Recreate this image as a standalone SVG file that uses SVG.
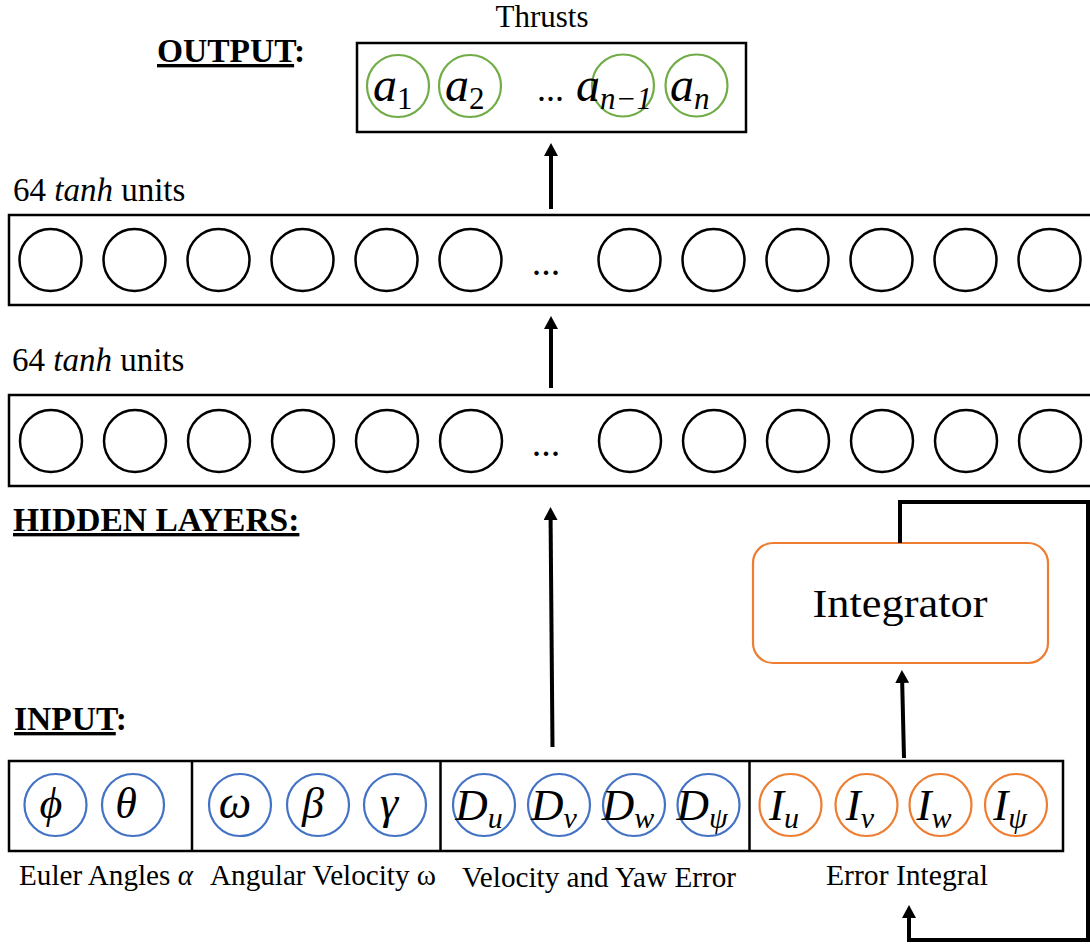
<svg xmlns="http://www.w3.org/2000/svg" width="1090" height="951" viewBox="0 0 1090 951">
<style>
  .t { font-family: "Liberation Serif", "Times New Roman", serif; fill: #000; }
  .b { font-weight: bold; }
  .m { font-family: "Liberation Serif", "Times New Roman", serif; font-style: italic; fill: #000; }
  .box { fill: #fff; stroke: #000; stroke-width: 2.5; }
  .unit { fill: none; stroke: #000; stroke-width: 2.5; }
  .blue { fill: none; stroke: #4472C4; stroke-width: 2.2; }
  .orange { fill: none; stroke: #ED7D31; stroke-width: 2.2; }
  .green { fill: none; stroke: #70AD47; stroke-width: 2.2; }
  .conn { fill: none; stroke: #000; stroke-width: 4; }
</style>
<defs>
  <marker id="ah" markerUnits="userSpaceOnUse" markerWidth="13" markerHeight="14" viewBox="0 0 13 14" refX="0" refY="7" orient="auto">
    <path d="M0,0 L13,7 L0,14 z" fill="#000"/>
  </marker>
</defs>
<rect width="1090" height="951" fill="#fff"/>

<!-- section titles -->
<g id="titles">
  <text class="t b" x="157" y="62" font-size="33.5"><tspan text-decoration="underline">OUTPUT</tspan>:</text>
  <text class="t b" x="13" y="531" font-size="33.5"><tspan text-decoration="underline">HIDDEN LAYERS: </tspan></text>
  <text class="t b" x="14" y="730" font-size="33.5"><tspan text-decoration="underline">INPUT</tspan>:</text>
</g>

<!-- output layer -->
<g id="output-layer">
  <text class="t" x="542" y="27" font-size="31" text-anchor="middle">Thrusts</text>
  <rect class="box" x="357" y="43" width="389" height="89"/>
  <circle class="green" cx="398" cy="86" r="31"/>
  <circle class="green" cx="470" cy="86" r="31"/>
  <circle class="green" cx="623" cy="85.5" r="31"/>
  <circle class="green" cx="696.5" cy="85.5" r="31"/>
  <text class="m" x="373" y="101" font-size="48">a<tspan font-size="31" font-style="normal" dy="8">1</tspan></text>
  <text class="m" x="445" y="101" font-size="48">a<tspan font-size="31" font-style="normal" dy="8">2</tspan></text>
  <text class="t" x="537" y="101" font-size="36">...</text>
  <text class="m" x="576" y="101" font-size="48">a<tspan font-size="31" dy="8">n−1</tspan></text>
  <text class="m" x="670" y="101" font-size="48">a<tspan font-size="31" dy="8">n</tspan></text>
</g>

<!-- hidden layer 2 (top) -->
<g id="hidden-layer-2">
  <text class="t" x="13" y="201" font-size="33">64 <tspan font-style="italic">tanh</tspan> units</text>
  <rect class="box" x="9" y="215" width="1086" height="90"/>
  <circle class="unit" cx="50.5" cy="260" r="31"/>
  <circle class="unit" cx="134.5" cy="260" r="31"/>
  <circle class="unit" cx="218.5" cy="260" r="31"/>
  <circle class="unit" cx="302.5" cy="260" r="31"/>
  <circle class="unit" cx="386.5" cy="260" r="31"/>
  <circle class="unit" cx="470.5" cy="260" r="31"/>
  <text class="t" x="546" y="275" font-size="38" text-anchor="middle">...</text>
  <circle class="unit" cx="629.5" cy="260" r="31"/>
  <circle class="unit" cx="713.5" cy="260" r="31"/>
  <circle class="unit" cx="797.5" cy="260" r="31"/>
  <circle class="unit" cx="881.5" cy="260" r="31"/>
  <circle class="unit" cx="965.5" cy="260" r="31"/>
  <circle class="unit" cx="1049.5" cy="260" r="31"/>
</g>

<!-- hidden layer 1 (bottom) -->
<g id="hidden-layer-1">
  <text class="t" x="12" y="371" font-size="33">64 <tspan font-style="italic">tanh</tspan> units</text>
  <rect class="box" x="9" y="395" width="1086" height="91"/>
  <circle class="unit" cx="51" cy="441" r="31"/>
  <circle class="unit" cx="135" cy="441" r="31"/>
  <circle class="unit" cx="219" cy="441" r="31"/>
  <circle class="unit" cx="303" cy="441" r="31"/>
  <circle class="unit" cx="387" cy="441" r="31"/>
  <circle class="unit" cx="471" cy="441" r="31"/>
  <text class="t" x="546" y="456" font-size="38" text-anchor="middle">...</text>
  <circle class="unit" cx="630" cy="441" r="31"/>
  <circle class="unit" cx="714" cy="441" r="31"/>
  <circle class="unit" cx="798" cy="441" r="31"/>
  <circle class="unit" cx="882" cy="441" r="31"/>
  <circle class="unit" cx="966" cy="441" r="31"/>
  <circle class="unit" cx="1050" cy="441" r="31"/>
</g>

<!-- integrator -->
<g id="integrator">
  <rect x="753" y="543" width="295" height="120" rx="20" ry="20" fill="#fff" stroke="#ED7D31" stroke-width="2.2"/>
  <text class="t" x="900" y="617" font-size="40" text-anchor="middle" textLength="175" lengthAdjust="spacingAndGlyphs">Integrator</text>
</g>

<!-- input layer -->
<g id="input-layer">
  <rect class="box" x="9" y="761" width="1054" height="90"/>
  <line x1="192" y1="761" x2="192" y2="851" stroke="#000" stroke-width="2.5"/>
  <line x1="440.5" y1="761" x2="440.5" y2="851" stroke="#000" stroke-width="2.5"/>
  <line x1="749.5" y1="761" x2="749.5" y2="851" stroke="#000" stroke-width="2.5"/>

  <circle class="blue" cx="55.5" cy="805" r="31"/>
  <circle class="blue" cx="133" cy="805" r="31"/>
  <circle class="blue" cx="240" cy="805" r="31"/>
  <circle class="blue" cx="318" cy="805" r="31"/>
  <circle class="blue" cx="395" cy="805" r="31"/>
  <circle class="blue" cx="484" cy="805" r="31"/>
  <circle class="blue" cx="559" cy="805" r="31"/>
  <circle class="blue" cx="634" cy="805" r="31"/>
  <circle class="blue" cx="708.5" cy="805" r="31"/>
  <circle class="orange" cx="790.5" cy="805" r="31"/>
  <circle class="orange" cx="866.5" cy="805" r="31"/>
  <circle class="orange" cx="940.5" cy="805" r="31"/>
  <circle class="orange" cx="1016" cy="805" r="31"/>

  <text class="m" x="51" y="818" font-size="44" text-anchor="middle">ϕ</text>
  <text class="m" x="126" y="818" font-size="44" text-anchor="middle">θ</text>
  <text class="m" x="235" y="818" font-size="46" text-anchor="middle">ω</text>
  <text class="m" x="313" y="818" font-size="44" text-anchor="middle">β</text>
  <text class="m" x="389" y="818" font-size="46" text-anchor="middle">γ</text>
  <text class="m" x="479" y="820" font-size="45" text-anchor="middle">D<tspan font-size="30" dy="8">u</tspan></text>
  <text class="m" x="554" y="820" font-size="45" text-anchor="middle">D<tspan font-size="30" dy="8">v</tspan></text>
  <text class="m" x="628" y="820" font-size="45" text-anchor="middle">D<tspan font-size="30" dy="8">w</tspan></text>
  <text class="m" x="702" y="820" font-size="45" text-anchor="middle">D<tspan font-size="30" dy="8">ψ</tspan></text>
  <text class="m" x="784" y="820" font-size="45" text-anchor="middle">I<tspan font-size="30" dy="8">u</tspan></text>
  <text class="m" x="860" y="820" font-size="45" text-anchor="middle">I<tspan font-size="30" dy="8">v</tspan></text>
  <text class="m" x="934" y="820" font-size="45" text-anchor="middle">I<tspan font-size="30" dy="8">w</tspan></text>
  <text class="m" x="1010" y="820" font-size="45" text-anchor="middle">I<tspan font-size="30" dy="8">ψ</tspan></text>

  <text class="t" x="19" y="885" font-size="28.5" textLength="174" lengthAdjust="spacingAndGlyphs">Euler Angles <tspan font-style="italic">α</tspan></text>
  <text class="t" x="210" y="885" font-size="28.5" textLength="226" lengthAdjust="spacingAndGlyphs">Angular Velocity ω</text>
  <text class="t" x="462" y="887" font-size="28.5" textLength="274" lengthAdjust="spacingAndGlyphs">Velocity and Yaw Error</text>
  <text class="t" x="826" y="885" font-size="28.5" textLength="162" lengthAdjust="spacingAndGlyphs">Error Integral</text>
</g>

<!-- connectors -->
<g id="connectors">
  <line class="conn" x1="551" y1="209" x2="551" y2="156" marker-end="url(#ah)"/>
  <line class="conn" x1="551" y1="388" x2="551" y2="329" marker-end="url(#ah)"/>
  <line class="conn" x1="552.5" y1="747" x2="550.6" y2="520" marker-end="url(#ah)"/>
  <line class="conn" x1="904" y1="758" x2="902.2" y2="683" marker-end="url(#ah)"/>
  <polyline class="conn" points="900,543 900,502 1088,502 1088,940 909,940 909,918" marker-end="url(#ah)"/>
</g>
</svg>
